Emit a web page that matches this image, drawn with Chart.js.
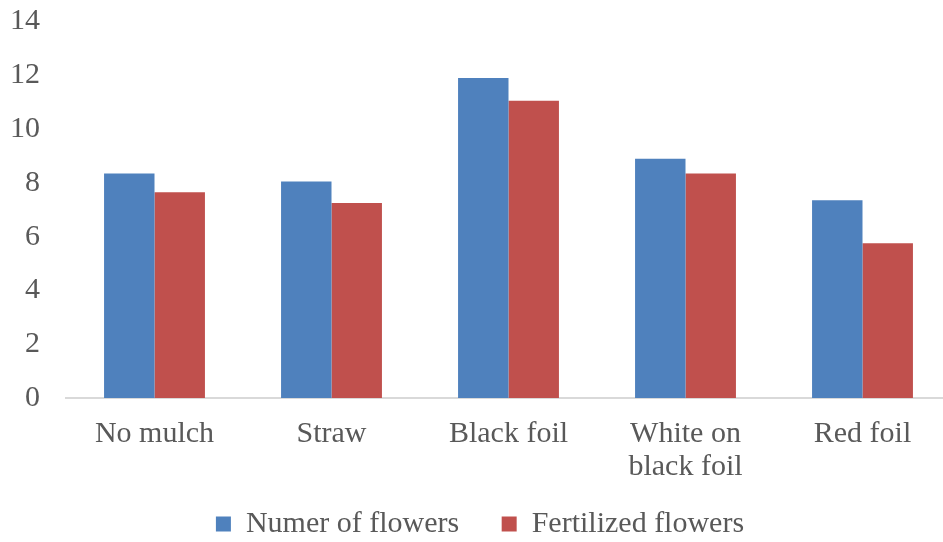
<!DOCTYPE html>
<html>
<head>
<meta charset="utf-8">
<script src="https://cdn.jsdelivr.net/npm/chart.js@4.4.1/dist/chart.umd.min.js"></script>
<style>
    html, body { margin: 0; padding: 0; background: #fff; overflow: hidden; }
    #wrap { position: relative; width: 951px; height: 542px; }
</style>
</head>
<body>
<div id="wrap"><canvas id="chart-flowers"></canvas></div>
<script>
var categories = ['No mulch', 'Straw', 'Black foil', ['White on', 'black foil'], 'Red foil'];
var numberOfFlowers = [8.35, 8.05, 11.9, 8.9, 7.35];
var fertilizedFlowers = [7.65, 7.25, 11.05, 8.35, 5.75];
var yTicks = [0, 2, 4, 6, 8, 10, 12, 14];

var serif = '"Liberation Serif", "Times New Roman", serif';

new Chart(
    document.getElementById('chart-flowers'),
    {
        type: 'bar',
        data: {
            labels: categories,
            datasets: [
                {
                    label: 'Numer of flowers',
                    data: numberOfFlowers,
                    backgroundColor: '#4F81BD'
                },
                {
                    label: 'Fertilized flowers',
                    data: fertilizedFlowers,
                    backgroundColor: '#C0504D'
                }
            ]
        },
        options: {
            maintainAspectRatio: false,
            responsive: true,
            animation: false,
            layout: { padding: { left: 9, top: 0, right: 0, bottom: -7 } },
            datasets: {
                bar: { categoryPercentage: 0.57, barPercentage: 1.0 }
            },
            scales: {
                x: {
                    grid: { display: false, drawTicks: false },
                    border: { display: true, color: '#D9D9D9', width: 2 },
                    ticks: {
                        color: '#595959',
                        padding: 20,
                        maxRotation: 0,
                        autoSkip: false,
                        font: { family: serif, size: 30, lineHeight: 1.1 }
                    },
                    afterFit: function (axis) {
                        // less room between the two-line labels and the legend
                        axis.height = axis.height - 15;
                    }
                },
                y: {
                    min: 0,
                    max: 14,
                    afterBuildTicks: function (axis) {
                        axis.ticks = yTicks.map(v => ({ value: v }));
                    },
                    afterFit: function (axis) {
                        axis.width = 57;
                        // top of the plot sits at the "14" label centre
                        axis.paddingTop = 21.5;
                    },
                    grid: { display: false, drawTicks: false },
                    border: { display: false },
                    ticks: {
                        color: '#595959',
                        padding: 26,
                        font: { family: serif, size: 30 }
                    }
                }
            },
            plugins: {
                legend: {
                    position: 'bottom',
                    labels: {
                        color: '#595959',
                        boxWidth: 15,
                        boxHeight: 15,
                        padding: 20,
                        font: { family: serif, size: 30 },
                        generateLabels: function (chart) {
                            var items = Chart.defaults.plugins.legend.labels.generateLabels(chart);
                            // wider gap between the two entries
                            items.forEach((item, i) => {
                                if (i < items.length - 1) item.text += '\u00A0\u00A0\u00A0';
                            });
                            return items;
                        }
                    }
                },
                tooltip: { enabled: false }
            }
        }
    }
);
</script>
</body>
</html>
